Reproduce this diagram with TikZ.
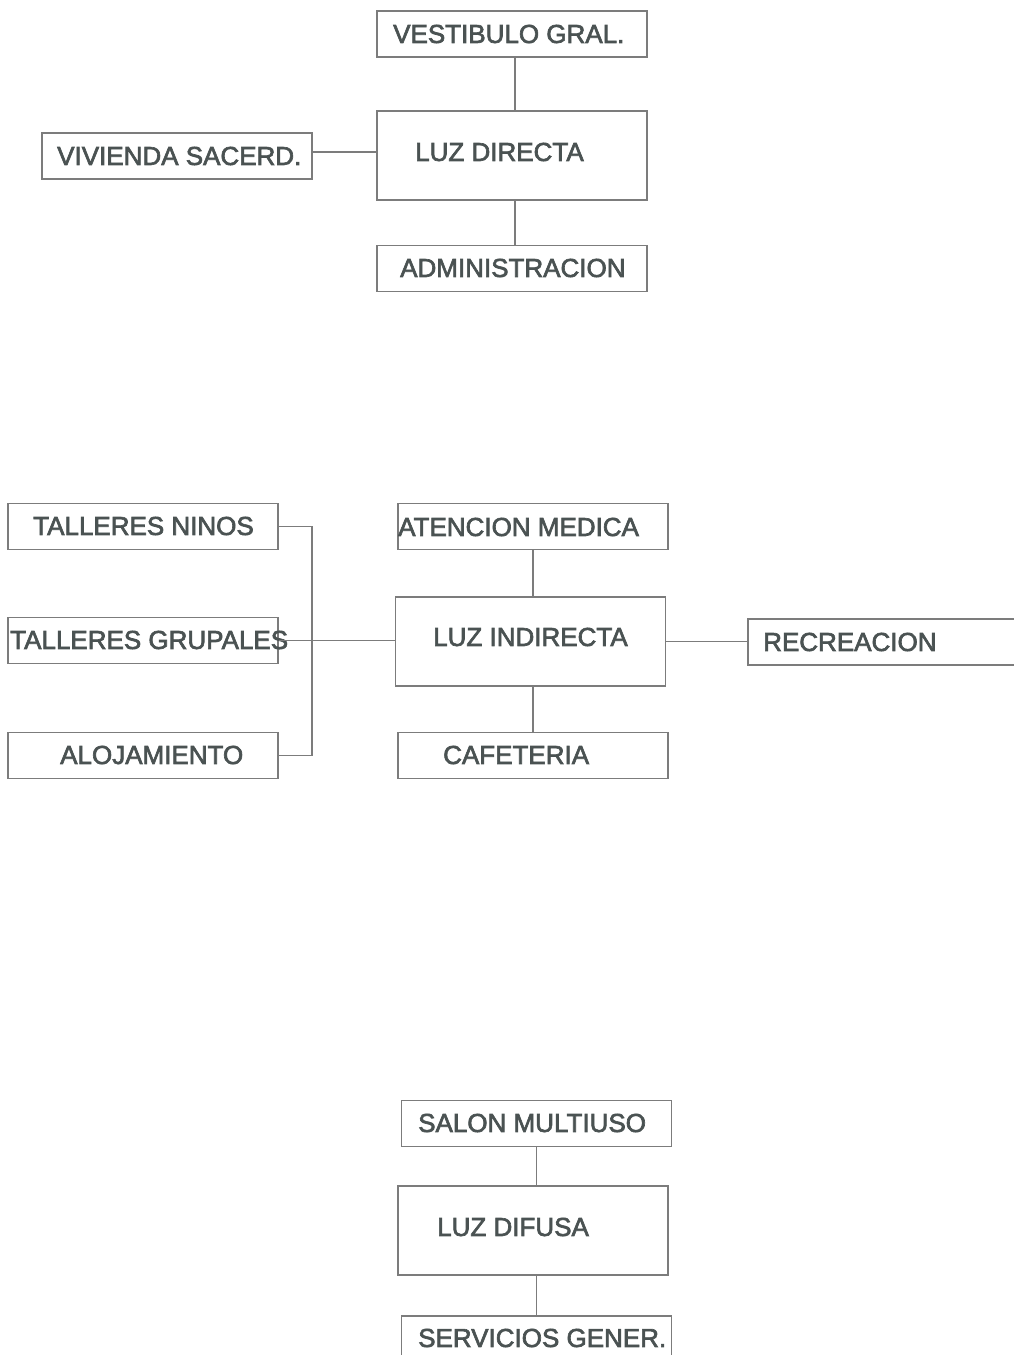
\documentclass[tikz,border=0pt]{standalone}
\usepackage{fontspec}
\setmainfont{Liberation Sans}
\newfontfamily\heavy{Liberation Sans}[FakeBold=2.5]
\definecolor{boxline}{HTML}{7C7C7C}
\definecolor{txtcol}{HTML}{4A5252}
\begin{document}
\begin{tikzpicture}[x=1pt,y=-1pt,
  box/.style={draw=boxline, line width=1.1pt, rectangle, inner sep=0pt, minimum width=270pt, minimum height=46pt},
  bigbox/.style={box, minimum height=89pt},
  txt/.style={text=txtcol, inner sep=0pt, anchor=west, font=\heavy\fontsize{26}{30}\selectfont},
  conn/.style={draw=boxline, line width=1.1pt}]
\useasboundingbox (0,0) rectangle (1014,1355);
% top group
\node[box] (vest) at (512,34) {};
\node[bigbox] (ldir) at (512,155.5) {};
\node[box] (viv) at (177,156) {};
\node[box] (adm) at (512,268.5) {};
\node[txt] (tvest) at (393,34) {VESTIBULO GRAL.};
\node[txt] (tldir) at (415,152) {LUZ DIRECTA};
\node[txt] (tviv) at (57,156) {VIVIENDA SACERD.};
\node[txt] (tadm) at (400,268) {ADMINISTRACION};
\draw[conn] ([xshift=3pt]vest.south) -- ([xshift=3pt]ldir.north);
\draw[conn] ([xshift=3pt]ldir.south) -- ([xshift=3pt]adm.north);
\draw[conn] ([yshift=4pt]viv.east) -- ([yshift=4pt]viv.east -| ldir.west);
% middle group
\node[box] (tn) at (143,526.5) {};
\node[box] (tg) at (143,640.5) {};
\node[box] (al) at (143,755.5) {};
\node[box] (atm) at (533,526.5) {};
\node[bigbox] (lind) at (530.5,641.5) {};
\node[box] (caf) at (533,755.5) {};
\node[box] (rec) at (883,642) {};
\node[txt] (ttn) at (33,526) {TALLERES NINOS};
\node[txt] (ttg) at (10,640) {TALLERES GRUPALES};
\node[txt] (tal) at (60,755) {ALOJAMIENTO};
\node[txt] (tatm) at (398,527) {ATENCION MEDICA};
\node[txt] (tlind) at (433,637) {LUZ INDIRECTA};
\node[txt] (tcaf) at (443,755) {CAFETERIA};
\node[txt] (trec) at (763,642) {RECREACION};
\coordinate (brk) at (312,526.5);
\draw[conn] (tn.east) -- (brk) |- (al.east);
\draw[conn] (tg.east) -- (tg.east -| lind.west);
\draw[conn] (lind.east) -- (lind.east -| rec.west);
\draw[conn] (atm.south) -- (atm.south |- lind.north);
\draw[conn] (lind.south -| atm.south) -- (caf.north);
% bottom group
\node[box] (sal) at (536.5,1123.5) {};
\node[bigbox] (ldif) at (533,1230.5) {};
\node[box] (serv) at (536.5,1339) {};
\node[txt] (tsal) at (418,1123) {SALON MULTIUSO};
\node[txt] (tldif) at (437,1227) {LUZ DIFUSA};
\node[txt] (tserv) at (418,1338) {SERVICIOS GENER.};
\draw[conn] (sal.south) -- (sal.south |- ldif.north);
\draw[conn] (ldif.south -| serv.north) -- (serv.north);
\end{tikzpicture}
\end{document}
